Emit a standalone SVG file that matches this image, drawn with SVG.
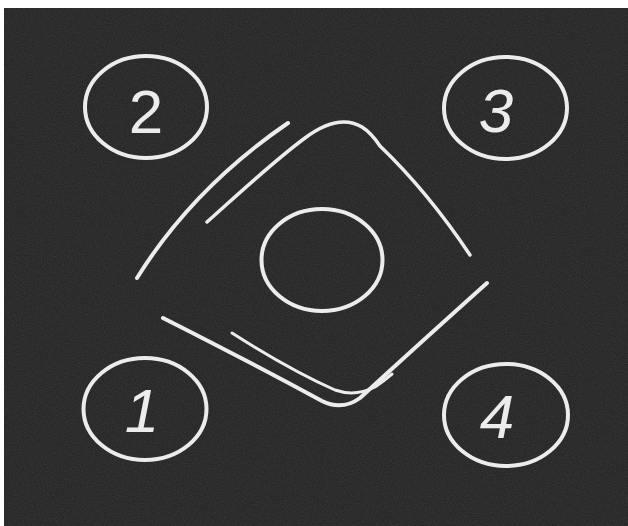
<svg xmlns="http://www.w3.org/2000/svg" width="628" height="526" viewBox="0 0 628 526">
  <defs>
    <filter id="grain" x="0" y="0" width="100%" height="100%">
      <feTurbulence type="fractalNoise" baseFrequency="0.9" numOctaves="2" seed="3" result="n"/>
      <feColorMatrix in="n" type="matrix" values="0 0 0 0 0.25  0 0 0 0 0.25  0 0 0 0 0.25  0 0 0 0.25 -0.05" result="g"/>
      <feComposite in="g" in2="SourceGraphic" operator="in"/>
    </filter>
    <style>
      .ring { fill: none; stroke: #ececec; stroke-width: 4; }
      .chalk { fill: none; stroke: #ececec; stroke-linecap: round; stroke-linejoin: round; }
      .num { fill: #ececec; font-family: "Liberation Sans", Arial, sans-serif; font-size: 62px; text-anchor: middle; }
    </style>
  </defs>
  <rect x="0" y="0" width="628" height="526" fill="#ffffff"/>
  <rect x="4" y="8" width="624" height="518" fill="#252525"/>
  <rect x="4" y="8" width="624" height="518" fill="#ffffff" filter="url(#grain)"/>

  <g id="node-2">
    <ellipse class="ring" cx="146" cy="107" rx="61" ry="51"/>
    <text class="num" x="146" y="133">2</text>
  </g>
  <g id="node-3">
    <ellipse class="ring" cx="505.5" cy="108" rx="61.5" ry="51"/>
    <text class="num" x="496" y="132" font-style="italic">3</text>
  </g>
  <g id="node-1">
    <ellipse class="ring" cx="145" cy="409" rx="61.5" ry="51"/>
    <text class="num" x="142" y="432" font-style="italic">1</text>
  </g>
  <g id="node-4">
    <ellipse class="ring" cx="506" cy="415" rx="62" ry="51"/>
    <text class="num" x="497" y="438" font-style="italic">4</text>
  </g>
  <g id="node-center">
    <ellipse class="ring" cx="322" cy="260" rx="60.5" ry="51"/>
  </g>

  <g id="connectors">
    <path class="chalk" stroke-width="4" d="M137,278 Q193,188 288,123"/>
    <path class="chalk" stroke-width="3.5" d="M207,222 C245,188 275,160 305,138 C325,123 345,117 362,127 C370,132 376,140 380,146 Q428,192 470,255"/>
    <path class="chalk" stroke-width="4" d="M163,318 Q250,362 322,401 Q342,411 360,398 Q420,343 487,283"/>
    <path class="chalk" stroke-width="3" d="M232,333 Q290,370 335,390 Q355,397 375,387 Q385,380 392,374"/>
  </g>
</svg>
